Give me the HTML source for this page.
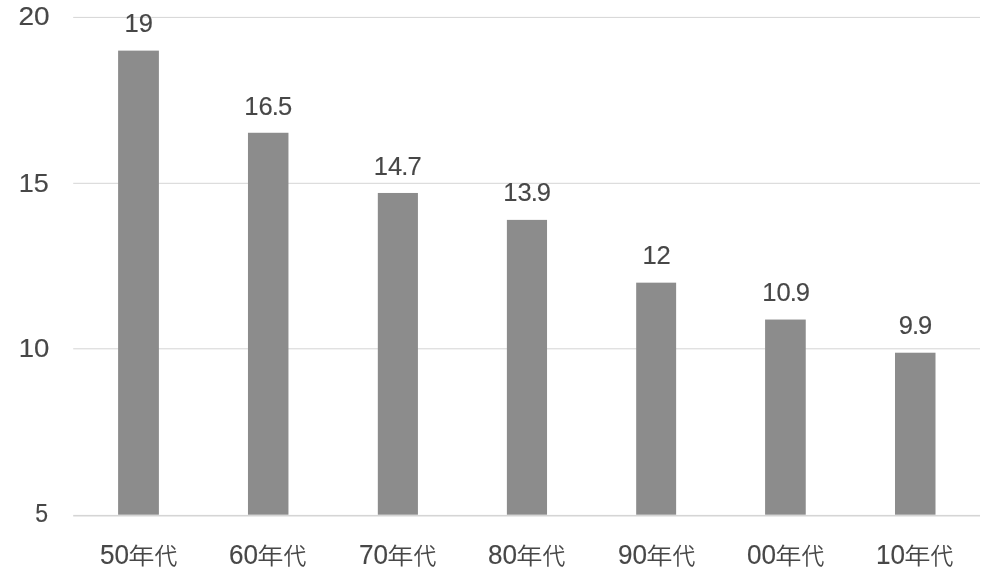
<!DOCTYPE html>
<html lang="zh"><head><meta charset="utf-8"><title>chart</title>
<style>
html,body{margin:0;padding:0;background:#fff;}
body{width:987px;height:573px;overflow:hidden;}
svg{display:block;}
text{font-family:"Liberation Sans","Noto Sans CJK KR","Noto Sans CJK SC",sans-serif;fill:#474747;stroke:#474747;stroke-width:0.15px;}
.yl{font-size:26.5px;text-anchor:end;}
.dl{font-size:26.4px;}
#chart{position:relative;width:987px;height:573px;overflow:hidden;filter:blur(0.35px);}
#chart svg{position:absolute;left:0;top:0;}
.cat{position:absolute;top:539.1px;white-space:nowrap;font:26.8px/30px "Liberation Sans","Noto Sans CJK KR","Noto Sans CJK SC",sans-serif;color:#474747;-webkit-text-stroke:0.15px #474747;transform:scaleX(0.975);transform-origin:0 0;}
.cat span{display:inline-block;position:relative;font:400 24px/30px "Noto Sans CJK KR","Noto Sans CJK SC","Liberation Sans",sans-serif;font-weight:350;-webkit-text-stroke:0;}
.cat .y{margin-left:-0.8px;top:0.2px;transform:scale(1.1231,0.97);transform-origin:0 25.46px;}
.cat .z{margin-left:3.25px;top:0.3px;transform:scale(0.9744,0.925);transform-origin:0 25.46px;}
</style></head><body>
<div id="chart">
<svg width="987" height="573" viewBox="0 0 987 573">
<rect width="987" height="573" fill="#ffffff"/>
<rect x="73.2" y="16.90" width="906.80" height="1.0" fill="#d5d5d5"/>
<rect x="73.2" y="182.80" width="906.80" height="1.0" fill="#d5d5d5"/>
<rect x="73.2" y="348.30" width="906.80" height="1.0" fill="#d5d5d5"/>
<rect x="73.2" y="514.90" width="906.80" height="1.6" fill="#d5d5d5"/>
<rect x="118.10" y="50.62" width="40.80" height="464.08" fill="#8c8c8c"/>
<rect x="247.96" y="132.77" width="40.50" height="381.93" fill="#8c8c8c"/>
<rect x="377.82" y="192.97" width="40.10" height="321.73" fill="#8c8c8c"/>
<rect x="506.88" y="219.89" width="40.15" height="294.81" fill="#8c8c8c"/>
<rect x="636.18" y="282.66" width="39.95" height="232.04" fill="#8c8c8c"/>
<rect x="765.09" y="319.55" width="40.65" height="195.15" fill="#8c8c8c"/>
<rect x="895.00" y="352.72" width="40.50" height="161.98" fill="#8c8c8c"/>
<text class="yl" transform="translate(49.7 25.30) scale(1.058 1)">20</text>
<text class="yl" transform="translate(48.85 191.70) scale(1.02 1)">15</text>
<text class="yl" transform="translate(49.4 356.80) scale(1.04 1)">10</text>
<text class="yl" transform="translate(47.95 522.30) scale(0.87 1)">5</text>
<text class="dl" transform="translate(124.59 32.12) scale(0.968 1.005)">19</text>
<text class="dl" transform="translate(244.36 115.37) scale(0.968 1.005)">16<tspan dx="-1.0">.</tspan><tspan dx="-1.0">5</tspan></text>
<text class="dl" transform="translate(373.82 174.67) scale(0.968 1.005)">14<tspan dx="-1.0">.</tspan><tspan dx="-1.0">7</tspan></text>
<text class="dl" transform="translate(503.28 201.24) scale(0.968 1.005)">13<tspan dx="-1.0">.</tspan><tspan dx="-1.0">9</tspan></text>
<text class="dl" transform="translate(642.42 264.36) scale(0.968 1.005)">12</text>
<text class="dl" transform="translate(762.19 301.00) scale(0.968 1.005)">10<tspan dx="-1.0">.</tspan><tspan dx="-1.0">9</tspan></text>
<text class="dl" transform="translate(898.76 334.42) scale(0.968 1.005)">9<tspan dx="-1.0">.</tspan><tspan dx="-1.0">9</tspan></text>
</svg>
<div class="cat" style="left:99.70px">50<span class="y">年</span><span class="z">代</span></div>
<div class="cat" style="left:229.16px">60<span class="y">年</span><span class="z">代</span></div>
<div class="cat" style="left:358.62px">70<span class="y">年</span><span class="z">代</span></div>
<div class="cat" style="left:488.07px">80<span class="y">年</span><span class="z">代</span></div>
<div class="cat" style="left:617.53px">90<span class="y">年</span><span class="z">代</span></div>
<div class="cat" style="left:746.99px">00<span class="y">年</span><span class="z">代</span></div>
<div class="cat" style="left:876.45px">10<span class="y">年</span><span class="z">代</span></div>
</div></body></html>
